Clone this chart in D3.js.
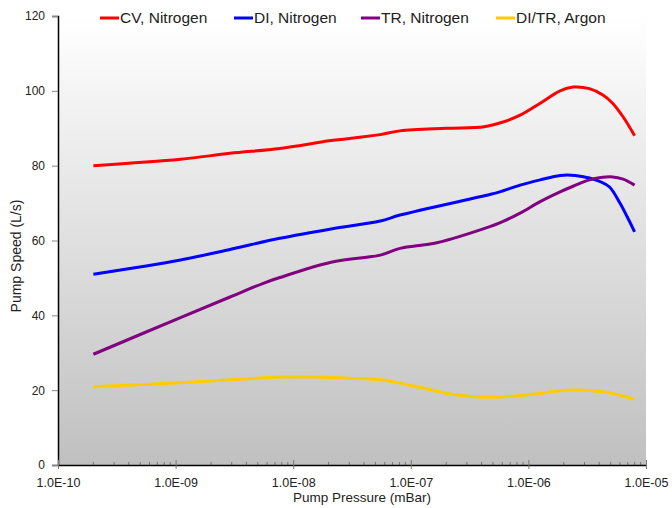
<!DOCTYPE html>
<html>
<head>
<meta charset="utf-8">
<script src="https://cdn.jsdelivr.net/npm/d3@7"></script>
<style>
html,body{margin:0;padding:0;background:#fff;}
text{font-family:"Liberation Sans",Arial,sans-serif;fill:#222;}
</style>
</head>
<body>
<svg id="chart" width="672" height="508"></svg>
<script>
// Data (pressure in mBar, speed in L/s)
const seriesNames = ["CV, Nitrogen", "DI, Nitrogen", "TR, Nitrogen", "DI/TR, Argon"];
const seriesColors = ["#ff0000", "#0000ff", "#800080", "#ffcc00"];

const cvPressure = [2e-10, 1.1e-9, 2.9e-9, 7.7e-9, 2.1e-8, 5.5e-8, 8.1e-8, 2e-7, 4.2e-7, 6e-7, 8.5e-7, 1.26e-6, 1.86e-6, 2.4e-6, 3.3e-6, 4.3e-6, 5.2e-6, 6.4e-6, 8e-6];
const cvSpeed    = [80, 81.7, 83.3, 84.6, 86.7, 88.3, 89.3, 90, 90.4, 91.6, 93.5, 96.7, 100, 101, 100.6, 98.9, 96.7, 93, 88];

const diPressure = [2e-10, 1.1e-9, 2.9e-9, 7.7e-9, 2.1e-8, 5.5e-8, 8.1e-8, 4.7e-7, 5.7e-7, 8.5e-7, 1.26e-6, 1.86e-6, 2.5e-6, 3.3e-6, 4.1e-6, 4.9e-6, 6e-6, 6.9e-6, 8e-6];
const diSpeed    = [51, 54.8, 57.6, 60.6, 63.1, 65.2, 66.8, 72.3, 73, 74.8, 76.2, 77.4, 77.4, 76.7, 75.7, 74.3, 70, 66.4, 62.3];

const trPressure = [2e-10, 1.1e-9, 2.9e-9, 5.5e-9, 7.7e-9, 2.1e-8, 5.5e-8, 8.1e-8, 1.67e-7, 4.7e-7, 5.7e-7, 8.5e-7, 1.26e-6, 1.86e-6, 2.4e-6, 3.3e-6, 5.2e-6, 6.4e-6, 8e-6];
const trSpeed    = [29.6, 39.4, 44.9, 48.5, 50.1, 54.2, 56.1, 57.9, 59.4, 63.7, 64.7, 67.3, 70.4, 73, 74.5, 76.2, 77, 76.4, 74.8];

const arPressure = [2e-10, 1.1e-9, 3.5e-9, 7.7e-9, 1.5e-8, 3e-8, 5.8e-8, 1.13e-7, 2.15e-7, 5e-7, 1.09e-6, 2.1e-6, 4.3e-6, 8e-6];
const arSpeed    = [20.9, 22, 22.9, 23.5, 23.5, 23.2, 22.7, 20.9, 19, 18.1, 18.9, 20, 19.6, 17.6];

const xTickValues = [1e-10, 1e-9, 1e-8, 1e-7, 1e-6, 1e-5];
const xTickLabels = ["1.0E-10", "1.0E-09", "1.0E-08", "1.0E-07", "1.0E-06", "1.0E-05"];
const yTickValues = [0, 20, 40, 60, 80, 100, 120];

const allPressure = [cvPressure, diPressure, trPressure, arPressure];
const allSpeed = [cvSpeed, diSpeed, trSpeed, arSpeed];

const svg = d3.select("#chart");
const x = d3.scaleLog().domain([1e-10, 1e-5]).range([58, 646]);
const y = d3.scaleLinear().domain([0, 120]).range([465, 16]);
const FONT = '"Liberation Sans",Arial,sans-serif';

// background gradient
const defs = svg.append("defs");
const grad = defs.append("linearGradient").attr("id", "bg").attr("x1", 0).attr("y1", 0).attr("x2", 0).attr("y2", 1);
grad.append("stop").attr("offset", "0%").attr("stop-color", "#ffffff");
grad.append("stop").attr("offset", "100%").attr("stop-color", "#c0c0c0");
svg.append("rect")
  .attr("x", x(1e-10)).attr("y", y(120))
  .attr("width", x(1e-5) - x(1e-10)).attr("height", y(0) - y(120))
  .attr("fill", "url(#bg)");

// lines
const line = d3.line().curve(d3.curveCatmullRom.alpha(0.5)).x(d => x(d[0])).y(d => y(d[1]));
allPressure.forEach((ps, i) => {
  const pts = ps.map((p, j) => [p, allSpeed[i][j]]);
  svg.append("path").datum(pts)
    .attr("d", line)
    .attr("fill", "none")
    .attr("stroke", seriesColors[i])
    .attr("stroke-width", 3)
    .attr("stroke-linejoin", "round")
    .attr("stroke-linecap", "butt");
});

// y axis
const yAxis = d3.axisLeft(y).tickValues(yTickValues).tickSize(6).tickPadding(7).tickFormat(d3.format("d"));
const gy = svg.append("g").attr("transform", `translate(${x(1e-10)},0)`).call(yAxis);
gy.select(".domain").attr("stroke", "#000").attr("stroke-width", 1.5);
gy.selectAll(".tick line").attr("stroke", "#888");
gy.selectAll(".tick text").attr("font-size", 12).style("font-family", FONT).attr("fill", "#222");

// x axis minor ticks (inside)
const minor = [];
for (let e = -10; e < -5; e++) for (let k = 2; k <= 9; k++) minor.push(k * Math.pow(10, e));
svg.append("g").selectAll("line").data(minor).join("line")
  .attr("x1", d => x(d)).attr("x2", d => x(d))
  .attr("y1", y(0)).attr("y2", y(0) - 3)
  .attr("stroke", "#777").attr("stroke-width", 1);

const xAxis = d3.axisBottom(x).tickValues(xTickValues).tickSizeInner(4).tickSizeOuter(0).tickPadding(9)
  .tickFormat((d, i) => xTickLabels[i]);
const gx = svg.append("g").attr("transform", `translate(0,${y(0)})`).call(xAxis);
gx.select(".domain").attr("stroke", "#000").attr("stroke-width", 1.5);
gx.selectAll(".tick line").attr("stroke", "#777").attr("y1", -5);
gx.selectAll(".tick text").attr("font-size", 12.5).style("font-family", FONT).attr("fill", "#222");

// axis titles
svg.append("text").attr("x", 362).attr("y", 502).attr("text-anchor", "middle").attr("font-size", 13.5).text("Pump Pressure (mBar)");
svg.append("text").attr("transform", "translate(21,256) rotate(-90)").attr("text-anchor", "middle").attr("font-size", 14).text("Pump Speed (L/s)");

// legend
const legendX = [100, 234, 361, 496];
const lg = svg.append("g");
seriesNames.forEach((n, i) => {
  lg.append("line").attr("x1", legendX[i]).attr("x2", legendX[i] + 19).attr("y1", 18).attr("y2", 18)
    .attr("stroke", seriesColors[i]).attr("stroke-width", 3);
  lg.append("text").attr("x", legendX[i] + 20).attr("y", 23).attr("font-size", 15.5).text(n);
});
</script>
</body>
</html>
